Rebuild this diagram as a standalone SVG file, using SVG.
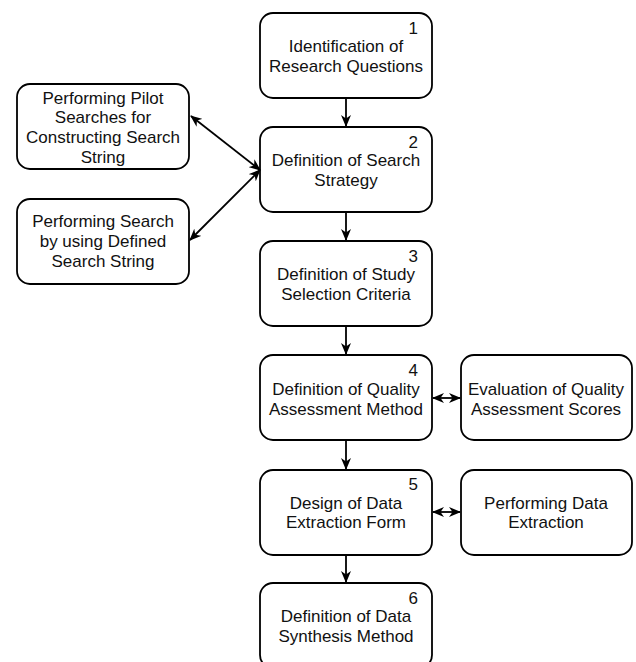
<svg xmlns="http://www.w3.org/2000/svg" width="636" height="662" viewBox="0 0 636 662">
<defs>
<marker id="ah" viewBox="0 0 12 10" refX="11" refY="5" markerWidth="12" markerHeight="10" markerUnits="userSpaceOnUse" orient="auto-start-reverse">
<path d="M0,0 L12,5 L0,10 L3.5,5 z" fill="#000"/>
</marker>
<style>
.box{fill:#fff;stroke:#000;stroke-width:1.8}
text{font-family:"Liberation Sans",Arial,sans-serif;font-size:17px;fill:#111;text-anchor:middle}
.num{text-anchor:end}
.c{stroke:#000;stroke-width:1.8;fill:none}
</style>
</defs>
<rect width="636" height="662" fill="#fff"/>
<g id="n1"><rect class="box" x="260" y="13" width="172" height="85" rx="13"/><text class="num" x="418" y="34">1</text><text x="346" y="52">Identification of</text><text x="346" y="72">Research Questions</text></g>
<g id="n2"><rect class="box" x="260" y="127" width="172" height="85" rx="13"/><text class="num" x="418" y="148">2</text><text x="346" y="166">Definition of Search</text><text x="346" y="186">Strategy</text></g>
<g id="n3"><rect class="box" x="260" y="241" width="172" height="85" rx="13"/><text class="num" x="418" y="262">3</text><text x="346" y="280">Definition of Study</text><text x="346" y="300">Selection Criteria</text></g>
<g id="n4"><rect class="box" x="260" y="355" width="172" height="85" rx="13"/><text class="num" x="418" y="376">4</text><text x="346" y="395">Definition of Quality</text><text x="346" y="415">Assessment Method</text></g>
<g id="n5"><rect class="box" x="260" y="470" width="172" height="85" rx="13"/><text class="num" x="418" y="490">5</text><text x="346" y="509">Design of Data</text><text x="346" y="528">Extraction Form</text></g>
<g id="n6"><rect class="box" x="260" y="583" width="172" height="85" rx="13"/><text class="num" x="418" y="604">6</text><text x="346" y="622">Definition of Data</text><text x="346" y="642">Synthesis Method</text></g>
<g id="l1"><rect class="box" x="17" y="84" width="172" height="85" rx="13"/><text x="103" y="104">Performing Pilot</text><text x="103" y="123">Searches for</text><text x="103" y="143">Constructing Search</text><text x="103" y="163">String</text></g>
<g id="l2"><rect class="box" x="17" y="199" width="172" height="85" rx="13"/><text x="103" y="227">Performing Search</text><text x="103" y="247">by using Defined</text><text x="103" y="267">Search String</text></g>
<g id="r4"><rect class="box" x="461" y="355" width="171" height="85" rx="13"/><text x="546" y="395">Evaluation of Quality</text><text x="546" y="415">Assessment Scores</text></g>
<g id="r5"><rect class="box" x="461" y="470" width="171" height="85" rx="13"/><text x="546" y="509">Performing Data</text><text x="546" y="528">Extraction</text></g>
<g id="connectors">
<line class="c" x1="346" y1="98" x2="346" y2="126" marker-end="url(#ah)"/>
<line class="c" x1="346" y1="212" x2="346" y2="240" marker-end="url(#ah)"/>
<line class="c" x1="346" y1="326" x2="346" y2="354" marker-end="url(#ah)"/>
<line class="c" x1="346" y1="440" x2="346" y2="469" marker-end="url(#ah)"/>
<line class="c" x1="346" y1="555" x2="346" y2="582" marker-end="url(#ah)"/>
<line class="c" x1="191" y1="116" x2="260" y2="170" marker-start="url(#ah)" marker-end="url(#ah)"/>
<line class="c" x1="190" y1="240" x2="260" y2="170" marker-start="url(#ah)" marker-end="url(#ah)"/>
<line class="c" x1="433" y1="398" x2="460" y2="398" marker-start="url(#ah)" marker-end="url(#ah)"/>
<line class="c" x1="433" y1="512" x2="460" y2="512" marker-start="url(#ah)" marker-end="url(#ah)"/>
</g>
</svg>
